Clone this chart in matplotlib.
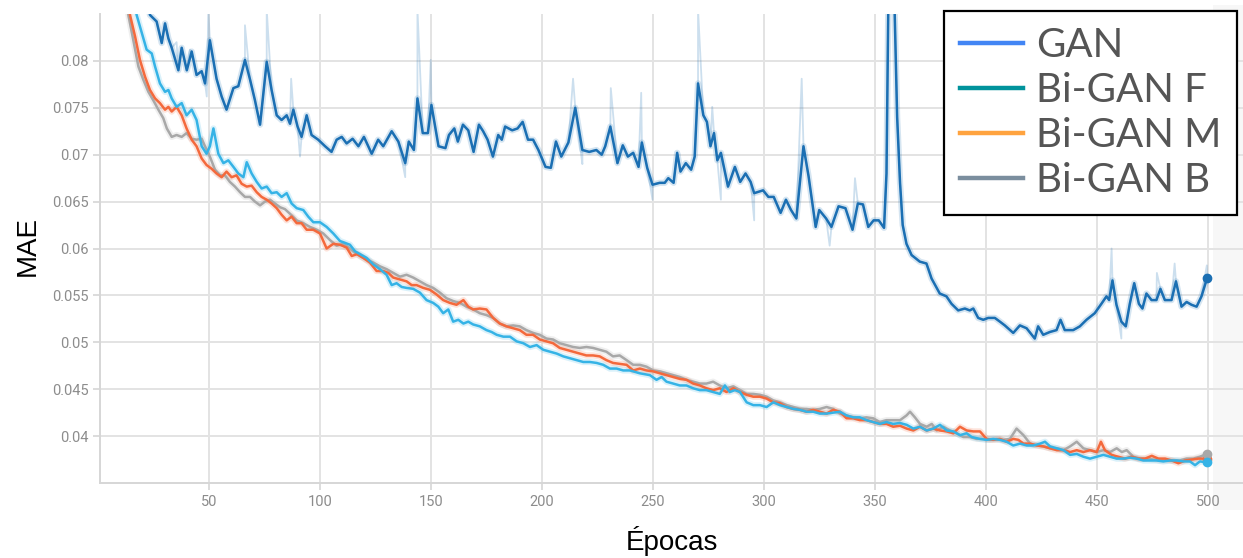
import matplotlib
matplotlib.use("Agg")
import matplotlib.pyplot as plt
from matplotlib.lines import Line2D
from matplotlib.patches import Rectangle
import numpy as np

# ---------------- data ----------------
gan_ep = [1, 10, 18, 23.4, 26.4, 28.7, 30.2, 31.7, 33.2, 36.2, 37.7, 40.0, 42.2, 44.4, 46.7, 48.2, 50.4,
          53.4, 55.7, 57.9, 61.0, 63.2, 66.2, 68.5, 70.7, 73.0, 76.0, 78.2, 80.5, 82.7, 85.0, 86.5, 88.0,
          89.9, 91.7, 94.0, 96.2, 99.2, 102.3, 105.2, 107.5, 109.8, 112.0, 114.7, 117.3, 119.8, 123.3,
          126.2, 128.5, 132.3, 135.3, 138.4, 140.0, 142.3, 143.9, 146.3, 148.6, 150.2, 153.4, 156.5,
          158.1, 160.5, 162.1, 164.4, 166.8, 169.2, 171.6, 173.5, 175.5, 177.9, 180.3, 181.9, 183.4,
          186.6, 189.0, 191.3, 193.7, 196.0, 198.4, 201.6, 204.0, 206.3, 208.7, 211.9, 215.0, 218.2,
          221.3, 224.5, 226.9, 228.5, 230.8, 234.0, 236.4, 238.7, 241.1, 243.5, 245.0, 247.4, 249.8,
          253.0, 255.3, 256.9, 259.3, 260.9, 262.4, 264.8, 267.2, 268.8, 270.3, 272.7, 274.3, 275.9,
          277.5, 279.0, 280.6, 283.8, 286.9, 289.3, 291.7, 294.0, 295.6, 299.6, 302.0, 304.4, 307.5,
          309.9, 312.2, 314.6, 317.8, 320.1, 323.3, 324.9, 328.0, 330.4, 333.6, 336.7, 339.9, 342.3,
          344.6, 347.0, 349.4, 351.7, 354.1, 355.2, 356.0, 357.2, 358.6, 360.0, 361.3, 362.5, 364.2,
          366.5, 370.2, 373.2, 375.5, 379.2, 382.2, 384.5, 387.5, 390.5, 392.7, 394.3, 396.5, 398.8,
          401.0, 404.0, 406.3, 408.5, 412.3, 415.3, 418.3, 422.0, 423.5, 425.8, 428.8, 431.8, 433.6,
          435.5, 439.3, 442.3, 445.3, 449.0, 452.0, 454.3, 455.5, 457.0, 458.8, 461.0, 463.0, 464.8,
          466.8, 468.9, 470.5, 472.3, 474.6, 476.8, 478.6, 480.6, 483.6, 485.6, 488.1, 490.4, 492.6,
          494.9, 497.1, 499.7]
gan_val = [0.160, 0.110, 0.092, 0.0849, 0.0842, 0.0819, 0.0840, 0.0824, 0.0814, 0.0790, 0.0814, 0.0790,
           0.0810, 0.0785, 0.0789, 0.0776, 0.0822, 0.0781, 0.0762, 0.0748, 0.0771, 0.0773, 0.0801, 0.0780,
           0.0758, 0.0732, 0.0799, 0.0769, 0.0742, 0.0737, 0.0742, 0.0733, 0.0748, 0.0730, 0.0719, 0.0742,
           0.0721, 0.0716, 0.0709, 0.0703, 0.0716, 0.0719, 0.0712, 0.0717, 0.0709, 0.0719, 0.0701, 0.0716,
           0.0709, 0.0725, 0.0714, 0.0691, 0.0714, 0.0705, 0.0760, 0.0723, 0.0723, 0.0753, 0.0709, 0.0707,
           0.0721, 0.0728, 0.0714, 0.0732, 0.0726, 0.0703, 0.0732, 0.0725, 0.0716, 0.0698, 0.0721, 0.0716,
           0.0730, 0.0726, 0.0728, 0.0735, 0.0716, 0.0716, 0.0705, 0.0687, 0.0686, 0.0714, 0.0698, 0.0713,
           0.0750, 0.0705, 0.0703, 0.0705, 0.0700, 0.0709, 0.0730, 0.0691, 0.0710, 0.0698, 0.0702, 0.0687,
           0.0713, 0.0686, 0.0668, 0.0670, 0.0670, 0.0675, 0.0670, 0.0702, 0.0682, 0.0691, 0.0684, 0.0698,
           0.0776, 0.0742, 0.0735, 0.0709, 0.0723, 0.0694, 0.0702, 0.0666, 0.0687, 0.0671, 0.0680, 0.0671,
           0.0659, 0.0662, 0.0655, 0.0655, 0.0638, 0.0652, 0.0641, 0.0632, 0.0709, 0.0677, 0.0623, 0.0641,
           0.0632, 0.0623, 0.0645, 0.0643, 0.0620, 0.0648, 0.0647, 0.0623, 0.0630, 0.0630, 0.0622, 0.0680,
           0.0860, 0.1000, 0.0880, 0.0740, 0.0670, 0.0625, 0.0605, 0.0593, 0.0586, 0.0584, 0.0568, 0.0552,
           0.0549, 0.0541, 0.0534, 0.0536, 0.0534, 0.0536, 0.0526, 0.0524, 0.0526, 0.0526, 0.0522, 0.0518,
           0.0510, 0.0518, 0.0515, 0.0504, 0.0517, 0.0508, 0.0511, 0.0513, 0.0524, 0.0513, 0.0513, 0.0517,
           0.0524, 0.0531, 0.0541, 0.0549, 0.0545, 0.0566, 0.0540, 0.0522, 0.0517, 0.0541, 0.0563, 0.0541,
           0.0536, 0.0552, 0.0545, 0.0545, 0.0557, 0.0545, 0.0545, 0.0565, 0.0538, 0.0543, 0.0540, 0.0538,
           0.0549, 0.0569]

# raw (unsmoothed) GAN excursions visible as faint spikes
gan_spike_ep = [35.4, 41.4, 49.0, 49.7, 66.2, 76.0, 87.0, 91.0, 138.4, 143.9, 149.9, 214.0, 218.2, 231.0,
                244.7, 249.8, 270.3, 276.7, 280.6, 295.6, 317.0, 329.6, 341.0, 456.6, 461.0, 477.0, 485.0,
                499.5]
gan_spike_val = [0.0820, 0.0812, 0.0762, 0.0855, 0.0838, 0.0855, 0.0781, 0.0698, 0.0676, 0.0855, 0.0801,
                 0.0781, 0.0690, 0.0771, 0.0766, 0.0652, 0.0855, 0.0751, 0.0652, 0.0630, 0.0781, 0.0603,
                 0.0675, 0.0600, 0.0504, 0.0574, 0.0584, 0.0582]

bgf_ep = [1, 5, 10, 14, 17.4, 19.7, 21.9, 24.2, 25.7, 27.9, 30.2, 31.7, 33.2, 35.4, 37.7, 39.9, 42.2, 44.4,
          46.7, 48.9, 50.4, 52.0, 54.2, 56.5, 58.7, 61.0, 63.2, 65.5, 67.0, 69.2, 71.5, 73.7, 76.0, 78.2,
          80.5, 82.7, 85.0, 87.2, 89.5, 92.5, 94.7, 97.0, 100.0, 103.0, 106.0, 109.0, 113.5, 115.8, 118.0,
          121.0, 124.0, 127.0, 130.0, 132.3, 134.5, 136.8, 139.0, 142.0, 145.0, 148.0, 151.0, 153.3, 155.5,
          157.8, 160.0, 162.3, 164.6, 166.8, 169.0, 172.0, 175.0, 177.3, 179.6, 182.6, 185.6, 188.6, 191.6,
          194.6, 197.6, 200.6, 203.6, 206.6, 209.6, 212.6, 215.6, 218.6, 221.6, 224.6, 227.6, 230.6, 233.6,
          236.6, 239.6, 244.0, 248.6, 251.6, 253.9, 256.1, 259.1, 262.1, 265.1, 268.1, 271.1, 274.1, 277.1,
          280.1, 282.4, 284.6, 286.9, 289.2, 292.2, 295.2, 298.2, 301.2, 304.2, 307.2, 310.2, 313.2, 316.2,
          319.2, 322.2, 325.2, 328.2, 331.2, 334.2, 337.2, 340.2, 343.2, 346.2, 349.2, 352.2, 355.2, 358.2,
          361.2, 364.3, 367.3, 370.3, 373.3, 376.3, 379.3, 382.3, 385.3, 388.3, 391.3, 393.6, 397.3, 400.3,
          403.3, 406.3, 409.3, 412.3, 415.4, 418.4, 421.4, 424.4, 426.6, 428.9, 431.9, 434.9, 437.9, 440.9,
          443.9, 446.9, 449.9, 452.9, 455.9, 458.9, 461.9, 464.9, 467.9, 470.9, 473.9, 476.9, 479.9, 482.9,
          485.9, 488.9, 491.9, 494.2, 496.4, 499.7]
bgf_val = [0.150, 0.120, 0.100, 0.090, 0.0849, 0.0830, 0.0812, 0.0808, 0.0794, 0.0776, 0.0767, 0.0769,
           0.0760, 0.0751, 0.0755, 0.0742, 0.0748, 0.0737, 0.0709, 0.0701, 0.0709, 0.0728, 0.0701, 0.0691,
           0.0694, 0.0687, 0.0680, 0.0676, 0.0692, 0.0680, 0.0671, 0.0664, 0.0666, 0.0659, 0.0660, 0.0655,
           0.0659, 0.0648, 0.0643, 0.0641, 0.0634, 0.0628, 0.0628, 0.0623, 0.0616, 0.0608, 0.0604, 0.0597,
           0.0594, 0.0590, 0.0583, 0.0578, 0.0572, 0.0561, 0.0563, 0.0559, 0.0558, 0.0557, 0.0553, 0.0545,
           0.0542, 0.0538, 0.0531, 0.0535, 0.0522, 0.0524, 0.0520, 0.0522, 0.0519, 0.0517, 0.0513, 0.0511,
           0.0508, 0.0506, 0.0506, 0.0501, 0.0499, 0.0495, 0.0497, 0.0492, 0.0490, 0.0488, 0.0485, 0.0483,
           0.0481, 0.0479, 0.0479, 0.0478, 0.0476, 0.0472, 0.0472, 0.0470, 0.0470, 0.0467, 0.0465, 0.0460,
           0.0463, 0.0458, 0.0456, 0.0454, 0.0454, 0.0451, 0.0449, 0.0449, 0.0447, 0.0445, 0.0454, 0.0447,
           0.0449, 0.0447, 0.0436, 0.0433, 0.0433, 0.0431, 0.0436, 0.0433, 0.0431, 0.0429, 0.0428, 0.0426,
           0.0426, 0.0424, 0.0424, 0.0425, 0.0426, 0.0422, 0.0420, 0.0420, 0.0417, 0.0415, 0.0413, 0.0415,
           0.0413, 0.0414, 0.0412, 0.0408, 0.0410, 0.0406, 0.0408, 0.0412, 0.0406, 0.0405, 0.0401, 0.0403,
           0.0399, 0.0397, 0.0396, 0.0397, 0.0396, 0.0394, 0.0390, 0.0392, 0.0390, 0.0390, 0.0392, 0.0394,
           0.0389, 0.0387, 0.0385, 0.0380, 0.0381, 0.0378, 0.0376, 0.0378, 0.0380, 0.0378, 0.0376, 0.0376,
           0.0377, 0.0376, 0.0374, 0.0374, 0.0374, 0.0373, 0.0374, 0.0374, 0.0373, 0.0373, 0.0369, 0.0373,
           0.0372]

bgm_ep = [1, 5, 10, 14.4, 16.7, 18.9, 21.2, 23.4, 25.7, 27.9, 30.2, 31.7, 33.2, 35.4, 37.7, 39.9, 42.2,
          44.4, 46.7, 48.9, 51.2, 53.4, 55.7, 57.9, 60.2, 62.4, 64.7, 67.0, 69.2, 71.5, 73.7, 76.0, 78.2,
          80.5, 82.7, 85.0, 87.2, 89.5, 91.7, 94.0, 97.0, 100.0, 103.0, 106.0, 109.0, 112.0, 114.3, 116.7,
          119.5, 122.5, 125.5, 128.5, 130.8, 133.0, 136.0, 139.0, 141.3, 143.5, 146.5, 149.5, 152.5, 155.5,
          158.5, 161.5, 164.6, 166.8, 169.0, 172.0, 175.0, 178.0, 181.0, 184.0, 187.0, 190.0, 193.0, 196.0,
          199.0, 202.0, 205.0, 208.0, 211.0, 214.0, 217.0, 220.0, 223.0, 226.0, 229.0, 232.0, 235.0, 238.1,
          241.1, 244.1, 247.1, 250.1, 253.1, 256.1, 259.1, 262.1, 265.1, 268.1, 271.1, 274.1, 277.1, 280.1,
          283.1, 286.2, 289.2, 292.2, 295.2, 298.2, 301.2, 304.2, 307.2, 310.2, 313.2, 316.2, 319.2, 322.2,
          325.2, 328.2, 331.2, 334.2, 337.2, 340.2, 343.2, 346.2, 349.2, 352.2, 355.2, 358.2, 361.3, 364.3,
          367.3, 370.3, 373.3, 376.3, 379.3, 382.3, 385.3, 388.3, 391.3, 394.3, 397.3, 400.3, 403.3, 406.3,
          409.3, 412.3, 414.6, 416.9, 419.9, 422.9, 425.9, 428.9, 431.9, 434.9, 437.9, 440.9, 443.9, 446.9,
          449.9, 451.8, 453.6, 456.6, 459.6, 462.6, 465.6, 468.6, 471.7, 474.7, 477.7, 480.7, 483.7, 486.7,
          489.7, 492.7, 495.7, 499.4]
bgm_val = [0.140, 0.115, 0.095, 0.0849, 0.0826, 0.0801, 0.0783, 0.0769, 0.0760, 0.0755, 0.0748, 0.0751,
           0.0746, 0.0751, 0.0742, 0.0728, 0.0716, 0.0709, 0.0696, 0.0689, 0.0685, 0.0680, 0.0676, 0.0682,
           0.0676, 0.0678, 0.0669, 0.0666, 0.0667, 0.0660, 0.0655, 0.0652, 0.0648, 0.0643, 0.0636, 0.0630,
           0.0634, 0.0627, 0.0627, 0.0620, 0.0620, 0.0616, 0.0600, 0.0605, 0.0604, 0.0601, 0.0592, 0.0594,
           0.0590, 0.0585, 0.0576, 0.0576, 0.0574, 0.0569, 0.0567, 0.0565, 0.0561, 0.0561, 0.0558, 0.0556,
           0.0551, 0.0545, 0.0542, 0.0540, 0.0545, 0.0538, 0.0535, 0.0536, 0.0535, 0.0526, 0.0520, 0.0517,
           0.0515, 0.0513, 0.0508, 0.0508, 0.0503, 0.0501, 0.0499, 0.0494, 0.0492, 0.0490, 0.0488, 0.0486,
           0.0486, 0.0485, 0.0481, 0.0478, 0.0477, 0.0476, 0.0470, 0.0472, 0.0470, 0.0469, 0.0467, 0.0465,
           0.0463, 0.0461, 0.0460, 0.0456, 0.0454, 0.0451, 0.0449, 0.0451, 0.0447, 0.0451, 0.0447, 0.0444,
           0.0442, 0.0442, 0.0440, 0.0436, 0.0435, 0.0431, 0.0429, 0.0428, 0.0426, 0.0428, 0.0426, 0.0424,
           0.0428, 0.0426, 0.0419, 0.0419, 0.0417, 0.0417, 0.0415, 0.0413, 0.0413, 0.0410, 0.0411, 0.0408,
           0.0406, 0.0410, 0.0406, 0.0408, 0.0406, 0.0405, 0.0403, 0.0410, 0.0406, 0.0405, 0.0405, 0.0397,
           0.0396, 0.0397, 0.0394, 0.0397, 0.0396, 0.0392, 0.0392, 0.0390, 0.0389, 0.0387, 0.0385, 0.0385,
           0.0383, 0.0385, 0.0383, 0.0385, 0.0383, 0.0394, 0.0385, 0.0380, 0.0378, 0.0376, 0.0378, 0.0376,
           0.0376, 0.0379, 0.0376, 0.0376, 0.0374, 0.0371, 0.0374, 0.0375, 0.0376, 0.0376]

bgb_ep = [1, 5, 10, 13.7, 15.9, 18.2, 20.4, 22.7, 24.9, 27.2, 29.4, 31.0, 33.2, 35.4, 37.7, 39.9, 42.2,
          44.4, 46.7, 48.2, 50.4, 52.7, 55.0, 57.2, 59.4, 61.7, 64.0, 66.2, 68.5, 70.7, 73.0, 75.2, 77.5,
          79.7, 82.0, 84.2, 86.5, 89.5, 92.5, 95.5, 98.5, 101.5, 104.5, 107.5, 110.5, 113.5, 115.0, 118.0,
          121.0, 124.0, 127.0, 130.0, 133.0, 136.0, 139.0, 142.0, 145.0, 148.0, 151.0, 154.0, 157.0, 160.0,
          163.0, 166.0, 169.0, 172.0, 175.0, 178.0, 181.0, 184.0, 187.0, 190.0, 193.0, 196.0, 199.0, 202.0,
          205.0, 208.0, 211.0, 214.0, 217.0, 220.0, 223.0, 226.0, 229.0, 232.0, 235.0, 238.1, 241.1, 244.1,
          247.1, 250.1, 253.1, 256.1, 259.1, 262.1, 265.1, 268.1, 271.1, 274.1, 277.1, 280.1, 283.1, 286.2,
          289.2, 292.2, 295.2, 298.2, 301.2, 304.2, 307.2, 310.2, 313.2, 316.2, 319.2, 322.2, 325.2, 328.2,
          331.2, 334.2, 337.2, 340.2, 343.2, 346.2, 349.2, 352.2, 355.2, 358.2, 361.3, 364.2, 365.8, 368.0,
          370.3, 373.3, 375.6, 377.8, 380.8, 383.8, 386.8, 389.8, 392.8, 395.8, 398.8, 401.8, 404.8, 407.8,
          410.8, 413.8, 416.9, 419.9, 422.9, 425.9, 428.9, 431.9, 434.9, 437.9, 440.9, 443.9, 446.9, 449.9,
          452.9, 455.9, 458.9, 461.2, 463.4, 466.4, 469.4, 472.4, 475.4, 478.4, 481.4, 484.4, 487.4, 490.4,
          493.4, 496.4, 499.4]
bgb_val = [0.140, 0.113, 0.094, 0.0849, 0.0822, 0.0794, 0.0780, 0.0767, 0.0758, 0.0748, 0.0739, 0.0728,
           0.0719, 0.0721, 0.0719, 0.0723, 0.0717, 0.0716, 0.0717, 0.0709, 0.0698, 0.0684, 0.0678, 0.0678,
           0.0671, 0.0666, 0.0660, 0.0655, 0.0655, 0.0650, 0.0646, 0.0650, 0.0652, 0.0648, 0.0644, 0.0642,
           0.0637, 0.0630, 0.0627, 0.0623, 0.0620, 0.0616, 0.0609, 0.0603, 0.0605, 0.0600, 0.0597, 0.0592,
           0.0588, 0.0585, 0.0581, 0.0578, 0.0574, 0.0570, 0.0572, 0.0569, 0.0565, 0.0561, 0.0558, 0.0553,
           0.0547, 0.0544, 0.0542, 0.0538, 0.0535, 0.0531, 0.0529, 0.0526, 0.0520, 0.0517, 0.0518, 0.0517,
           0.0513, 0.0510, 0.0508, 0.0504, 0.0503, 0.0499, 0.0497, 0.0495, 0.0494, 0.0495, 0.0494, 0.0492,
           0.0490, 0.0485, 0.0486, 0.0481, 0.0476, 0.0476, 0.0474, 0.0470, 0.0469, 0.0467, 0.0465, 0.0463,
           0.0460, 0.0458, 0.0456, 0.0456, 0.0458, 0.0454, 0.0451, 0.0453, 0.0449, 0.0445, 0.0445, 0.0444,
           0.0442, 0.0438, 0.0436, 0.0433, 0.0431, 0.0429, 0.0429, 0.0428, 0.0429, 0.0431, 0.0429, 0.0424,
           0.0422, 0.0420, 0.0419, 0.0420, 0.0419, 0.0415, 0.0417, 0.0417, 0.0417, 0.0422, 0.0426, 0.0420,
           0.0413, 0.0410, 0.0413, 0.0406, 0.0410, 0.0406, 0.0403, 0.0399, 0.0399, 0.0397, 0.0397, 0.0396,
           0.0397, 0.0396, 0.0397, 0.0408, 0.0401, 0.0392, 0.0390, 0.0389, 0.0387, 0.0387, 0.0385, 0.0389,
           0.0394, 0.0387, 0.0385, 0.0383, 0.0385, 0.0383, 0.0387, 0.0383, 0.0385, 0.0378, 0.0376, 0.0376,
           0.0375, 0.0374, 0.0374, 0.0374, 0.0374, 0.0376, 0.0376, 0.0378, 0.0381]

legend_labels = ["GAN", "Bi-GAN F", "Bi-GAN M", "Bi-GAN B"]
legend_colors = ["#4285f4", "#00939c", "#ffa33f", "#7b8e9e"]
line_colors = ["#1b6fb3", "#35b3e6", "#f4693c", "#a8a8a8"]

x_ticks = [50, 100, 150, 200, 250, 300, 350, 400, 450, 500]
y_ticks = [0.04, 0.045, 0.05, 0.055, 0.06, 0.065, 0.07, 0.075, 0.08]
y_tick_labels = ["0.04", "0.045", "0.05", "0.055", "0.06", "0.065", "0.07", "0.075", "0.08"]

# ---------------- figure ----------------
W, H = 1243, 558
fig = plt.figure(figsize=(W / 100, H / 100), dpi=100)
fig.patch.set_facecolor("white")

# light grey panel at the right edge (UI area of the screenshot)
panel = Rectangle((1213 / W, 1 - 510 / H), 30 / W, 505 / H, transform=fig.transFigure,
                  facecolor="#f7f7f7", edgecolor="none", zorder=0)
fig.patches.append(panel)

ax = fig.add_axes([100 / W, 1 - 483 / H, (W - 100) / W, (483 - 14) / H])
ax.set_zorder(2)
ax.patch.set_alpha(0)

series = [(gan_ep, gan_val), (bgf_ep, bgf_val), (bgm_ep, bgm_val), (bgb_ep, bgb_val)]

# faint halo for the unsmoothed values
for (ep, val), c in zip(series, line_colors):
    ax.plot(ep, val, color=c, lw=4.5, alpha=0.18, solid_joinstyle="round", zorder=2)

# raw GAN series with spikes
raw_pairs = sorted(list(zip(gan_ep, gan_val)) + list(zip(gan_spike_ep, gan_spike_val)))
ax.plot([p[0] for p in raw_pairs], [p[1] for p in raw_pairs], color=line_colors[0], lw=1.3,
        alpha=0.22, zorder=2)

# smoothed lines (draw order: grey, orange, light blue, GAN)
for idx in [3, 2, 1, 0]:
    ep, val = series[idx]
    ax.plot(ep, val, color=line_colors[idx], lw=1.8, solid_joinstyle="round", zorder=3)

# end-point dots
for idx in [2, 3, 1, 0]:
    ep, val = series[idx]
    ax.plot([ep[-1]], [val[-1]], "o", color=line_colors[idx], ms=6, zorder=4)

ax.set_xlim(0.9, 515.8)
ax.set_ylim(0.035, 0.085)

ax.set_xticks(x_ticks)
ax.set_xticklabels([str(v) for v in x_ticks])
ax.set_yticks(y_ticks)
ax.set_yticklabels(y_tick_labels)

for lab in ax.get_xticklabels() + ax.get_yticklabels():
    lab.set_family("Roboto")
    lab.set_fontsize(10.5)
    lab.set_color("#8c8c8c")

ax.tick_params(axis="x", length=5, width=1.2, color="#d6d6d6", pad=4)
ax.tick_params(axis="y", length=5, width=1.2, color="#d6d6d6", pad=3)

ax.grid(True, color="#e3e3e3", lw=1.4, zorder=0)
ax.set_axisbelow(True)
for s in ["top", "right"]:
    ax.spines[s].set_visible(False)
for s in ["left", "bottom"]:
    ax.spines[s].set_color("#d6d6d6")
    ax.spines[s].set_linewidth(1.4)

# axis titles
fig.text(28 / W, 1 - 246 / H, "MAE", rotation=90, ha="center", va="center",
         family="Liberation Sans", fontsize=20, color="black")
fig.text(672 / W, 1 - 541 / H, "Épocas", ha="center", va="center",
         family="Liberation Sans", fontsize=20, color="black")

# legend
handles = [Line2D([0], [0], color=c, lw=3.2) for c in legend_colors]
leg = fig.legend(handles, legend_labels, loc="upper left",
                 bbox_to_anchor=(944 / W, 1 - 11 / H), bbox_transform=fig.transFigure,
                 prop={"family": "Lato", "size": 29}, labelcolor="#555555",
                 frameon=True, fancybox=False, framealpha=1, edgecolor="black",
                 borderpad=0.4, labelspacing=0.2, handlelength=1.55, handletextpad=0.33,
                 borderaxespad=0)
leg.get_frame().set_linewidth(1.6)
leg.set_zorder(10)

fig.savefig("out.png", dpi=100, facecolor="white")
